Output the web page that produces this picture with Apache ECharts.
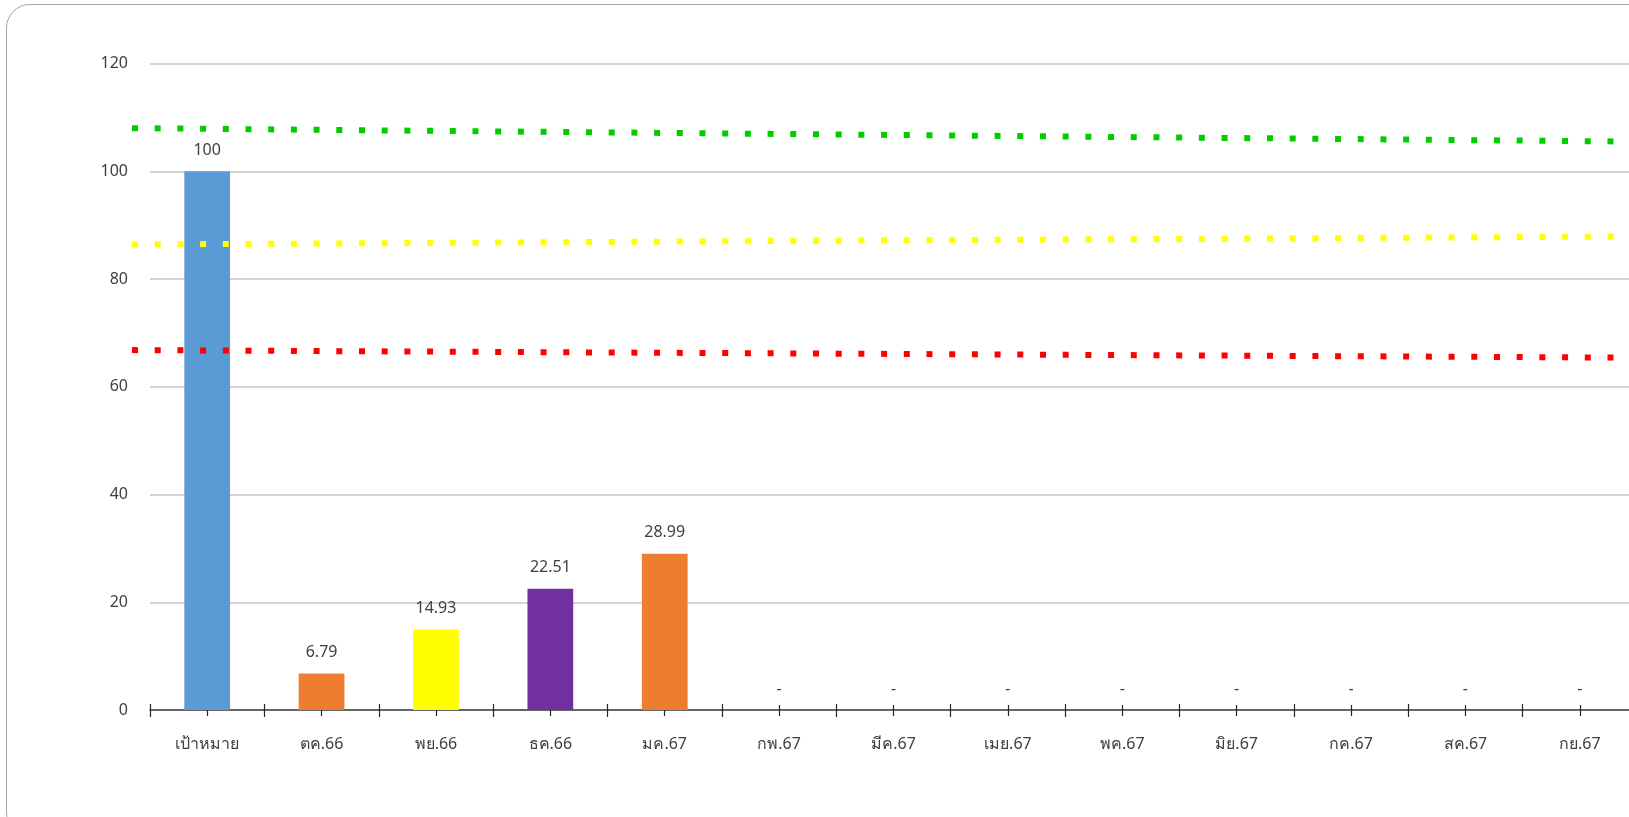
<!DOCTYPE html>
<html>
<head>
<meta charset="utf-8">
<script src="https://cdn.jsdelivr.net/npm/echarts@6/dist/echarts.min.js"></script>
<style>
  html, body { margin: 0; padding: 0; overflow: hidden; background: #fff; }
  .frame {
    position: absolute; left: 6px; top: 4px;
    width: 1660px; height: 830px;
    border: 1.5px solid #a6a6a6; border-radius: 24px;
  }
  /* wider than the window: the plot runs past the right edge, as in the original */
  #chart { position: absolute; left: 0; top: 0; width: 1700px; height: 817px; }
</style>
</head>
<body>
<div class="frame"></div>
<div id="chart"></div>
<script>
// categories and values
const categories = ['เป้าหมาย', 'ตค.66', 'พย.66', 'ธค.66', 'มค.67', 'กพ.67', 'มีค.67', 'เมย.67', 'พค.67', 'มิย.67', 'กค.67', 'สค.67', 'กย.67']
const values = [100, 6.79, 14.93, 22.51, 28.99, 0, 0, 0, 0, 0, 0, 0, 0]
const barColors = ['#5B9BD5', '#ED7D31', '#FFFF00', '#7030A0', '#ED7D31', '#ED7D31', '#ED7D31', '#ED7D31', '#ED7D31', '#ED7D31', '#ED7D31', '#ED7D31', '#ED7D31']

// dotted reference lines (start, end)
const greenLine = [108.0, 105.5]
const yellowLine = [86.4, 87.9]
const redLine = [66.8, 65.4]

const yMin = 0
const yMax = 120
const yStep = 20

const FONT = "'Noto Sans', 'DejaVu Sans', sans-serif"
const TEXT = '#404040'

const chart = echarts.init(document.getElementById('chart'))

const barGrid = { left: 150, top: 63.5, width: 1487, height: 646.5 }
const lineGrid = { left: 132, top: 63.5, width: 1505, height: 646.5 }

// extra axes only for the crossing ticks
const tickAxis = (gridIndex, inside, align, len) => ({
  type: 'category', gridIndex, data: categories,
  axisLine: { show: false },
  axisLabel: { show: false },
  axisTick: { show: true, inside, alignWithLabel: align, length: len, lineStyle: { color: '#262626', width: 1.2 } }
})
const hiddenY = gridIndex => ({ type: 'value', gridIndex, min: yMin, max: yMax, show: false })

const dotted = color => ({ color, width: 6, type: [6, 16.7], cap: 'butt' })
const lineSeries = (name, vals, color) => ({
  name, type: 'line', xAxisIndex: 4, yAxisIndex: 4,
  data: vals.map((v, i) => [i, v]),
  symbol: 'none', lineStyle: dotted(color), silent: true, z: 3
})

const option = {
  animation: false,
  textStyle: { fontFamily: FONT },
  grid: [barGrid, barGrid, barGrid, barGrid, lineGrid],
  xAxis: [
    {
      type: 'category', gridIndex: 0, data: categories,
      axisLine: { lineStyle: { color: '#404040', width: 1.5 } },
      axisTick: { show: true, inside: false, length: 7, lineStyle: { color: '#262626', width: 1.2 } },
      axisLabel: { color: TEXT, fontSize: 16, margin: 26, fontFamily: FONT }
    },
    tickAxis(1, true, false, 6),
    tickAxis(2, false, true, 6),
    tickAxis(3, true, true, 5),
    { type: 'value', gridIndex: 4, min: 0, max: 1, show: false }
  ],
  yAxis: [
    {
      type: 'value', gridIndex: 0, min: yMin, max: yMax, interval: yStep,
      axisLine: { show: false }, axisTick: { show: false },
      axisLabel: { color: TEXT, fontSize: 16, margin: 22, fontFamily: FONT },
      splitLine: { lineStyle: { color: '#C6C6C6', width: 1.5 } }
    },
    hiddenY(1), hiddenY(2), hiddenY(3), hiddenY(4)
  ],
  series: [
    {
      name: 'ผลงาน', type: 'bar', xAxisIndex: 0, yAxisIndex: 0,
      barWidth: '40%',
      data: values.map((v, i) => ({ value: v, itemStyle: { color: barColors[i] } })),
      label: {
        show: true, position: 'top', distance: 13,
        color: TEXT, fontSize: 16, fontFamily: FONT,
        formatter: p => (p.value === 0 ? '-' : String(p.value))
      },
      z: 2
    },
    lineSeries('green', greenLine, '#00CC00'),
    lineSeries('yellow', yellowLine, '#FFFF00'),
    lineSeries('red', redLine, '#FF0000')
  ]
}

chart.setOption(option)
</script>
</body>
</html>
